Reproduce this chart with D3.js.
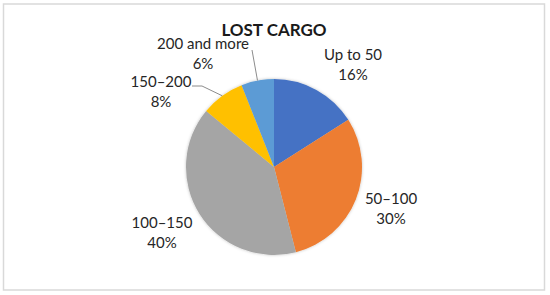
<!DOCTYPE html>
<html>
<head>
<meta charset="utf-8">
<script src="https://cdn.jsdelivr.net/npm/d3@7"></script>
<style>
  html, body { margin: 0; padding: 0; background: #fff; }
  svg { display: block; }
</style>
</head>
<body>
<script>
// ---- data ----
const categories = ["Up to 50", "50–100", "100–150", "150–200", "200 and more"];
const shares = [16, 30, 40, 8, 6];
const colors = ["#4472C4", "#ED7D31", "#A5A5A5", "#FFC000", "#5B9BD5"];
const title = "LOST CARGO";

// ---- layout (label placement, not data) ----
const labelAt = {
  "Up to 50":     { x: 353, y: 60 },
  "50–100":       { x: 391, y: 204 },
  "100–150":      { x: 162, y: 228 },
  "150–200":      { x: 161, y: 87 },
  "200 and more": { x: 203, y: 49 }
};
const leaders = {
  "150–200":      [[192, 86], [202, 86]],
  "200 and more": [[252, 50]]
};

const W = 550, H = 295;
const cx = 274, cy = 167, R = 88;
const font = "Lato, 'Liberation Sans', sans-serif";

const svg = d3.select("body").append("svg").attr("width", W).attr("height", H);

// frame
svg.append("rect").attr("x", 3.5).attr("y", 4).attr("width", 541).attr("height", 286)
  .attr("fill", "#fff").attr("stroke", "#d9d9d9").attr("stroke-width", 1.5);

const defs = svg.append("defs");
const f = defs.append("filter").attr("id", "sh").attr("x", "-20%").attr("y", "-20%").attr("width", "140%").attr("height", "140%");
f.append("feDropShadow").attr("dx", 0).attr("dy", 0).attr("stdDeviation", 1.5)
  .attr("flood-color", "#000").attr("flood-opacity", 0.25);

// title
svg.append("text").attr("x", cx).attr("y", 36).attr("text-anchor", "middle")
  .attr("font-family", font).attr("font-weight", "bold").attr("font-size", 17)
  .attr("fill", "#1a1a1a").text(title);

const data = categories.map((c, i) => ({ cat: c, v: shares[i], color: colors[i] }));
const pie = d3.pie().value(d => d.v).sort(null);
const arcs = pie(data);
const arc = d3.arc().innerRadius(0).outerRadius(R);
const edge = d3.arc().innerRadius(R).outerRadius(R);

const g = svg.append("g").attr("transform", `translate(${cx},${cy})`);
g.append("g").attr("filter", "url(#sh)")
  .selectAll("path").data(arcs).join("path")
  .attr("d", arc).attr("fill", d => d.data.color);

// leader lines
arcs.forEach(a => {
  const pts = leaders[a.data.cat];
  if (!pts) return;
  const e = edge.centroid(a);
  const all = pts.map(p => [p[0], p[1]]).concat([[cx + e[0], cy + e[1]]]);
  svg.append("path").attr("d", d3.line()(all))
    .attr("fill", "none").attr("stroke", "#8c8c8c").attr("stroke-width", 1);
});

// labels
arcs.forEach(a => {
  const p = labelAt[a.data.cat];
  const t = svg.append("text").attr("text-anchor", "middle")
    .attr("font-family", font).attr("font-size", 15).attr("fill", "#262626");
  t.append("tspan").attr("x", p.x).attr("y", p.y).text(a.data.cat);
  t.append("tspan").attr("x", p.x).attr("y", p.y + 19.5).text(a.data.v + "%");
});
</script>
</body>
</html>
